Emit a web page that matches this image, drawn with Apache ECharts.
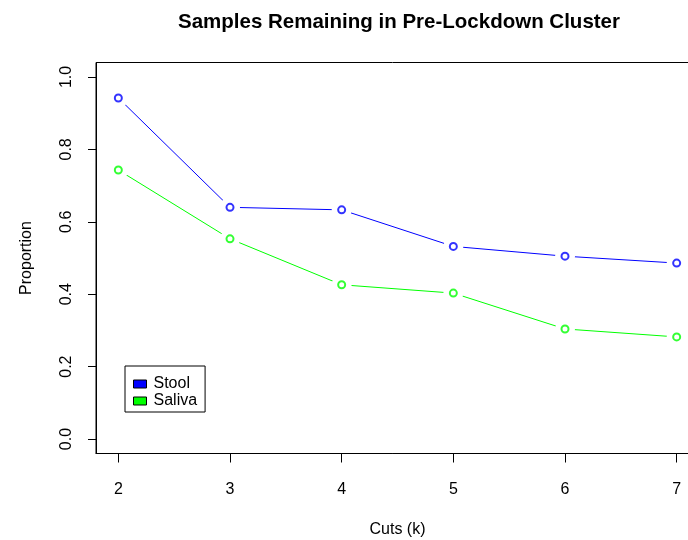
<!DOCTYPE html>
<html>
<head>
<meta charset="utf-8">
<script src="https://cdn.jsdelivr.net/npm/echarts@6/dist/echarts.min.js"></script>
<style>
  html, body { margin: 0; padding: 0; background: #fff; }
  #chart { width: 688px; height: 540px; }
</style>
</head>
<body>
<div id="chart"></div>
<script>
// data
const cuts = [2, 3, 4, 5, 6, 7];
const stool = [0.942, 0.640, 0.633, 0.532, 0.505, 0.486];
const saliva = [0.743, 0.553, 0.426, 0.403, 0.304, 0.282];
const yTicks = [0, 0.2, 0.4, 0.6, 0.8, 1.0];

const FONT = "Liberation Sans, Arial, Helvetica, sans-serif";

function pairs(ys) {
  return cuts.map((c, i) => [c, ys[i]]);
}

//R的type="b": 线 + 白色遮挡 + 空心圆
function rSeries(name, ys, color) {
  return [
    {
      name: name,
      type: "line",
      data: pairs(ys),
      showSymbol: false,
      lineStyle: { color: color, width: 1 },
      itemStyle: { color: color },
      z: 2,
      silent: true
    },
    {
      type: "scatter",
      data: pairs(ys),
      symbol: "circle",
      symbolSize: 20,
      itemStyle: { color: "#ffffff", opacity: 1 },
      z: 3,
      silent: true
    },
    {
      type: "scatter",
      data: pairs(ys),
      symbol: "emptyCircle",
      symbolSize: 7,
      itemStyle: { color: color, borderColor: color, borderWidth: 1 },
      z: 4,
      silent: true
    }
  ];
}

const chart = echarts.init(document.getElementById("chart"));
chart.setOption({
  animation: false,
  textStyle: { fontFamily: FONT },
  title: {
    text: "Samples Remaining in Pre-Lockdown Cluster",
    left: 394,
    textAlign: "center",
    top: 7,
    textStyle: { fontFamily: FONT, fontSize: 20.5, fontWeight: "bold", color: "#000" }
  },
  legend: {
    left: 125,
    top: 366,
    orient: "vertical",
    itemGap: 1,
    itemWidth: 13,
    itemHeight: 8,
    padding: [10, 8, 3, 8],
    backgroundColor: "#fff",
    borderColor: "#000",
    borderWidth: 1,
    borderRadius: 0,
    selectedMode: false,
    textStyle: { fontFamily: FONT, fontSize: 16, color: "#000", padding: [0, 0, 0, 2] },
    data: [
      { name: "Stool", icon: "rect", itemStyle: { color: "#0000ff", borderColor: "#000", borderWidth: 1 } },
      { name: "Saliva", icon: "rect", itemStyle: { color: "#00ff00", borderColor: "#000", borderWidth: 1 } }
    ]
  },
  grid: {
    left: 96,
    right: -11,
    top: 62.5,
    bottom: 86.5,
    outerBoundsMode: "none",
    containLabel: false,
    show: true,
    borderColor: "#000",
    borderWidth: 1,
    backgroundColor: "transparent"
  },
  xAxis: {
    type: "value",
    min: 1.8,
    max: 7.2,
    name: "Cuts (k)",
    nameLocation: "middle",
    nameGap: 68,
    nameTextStyle: { fontFamily: FONT, fontSize: 16, color: "#000" },
    axisLine: { show: true, onZero: false, lineStyle: { color: "#000", width: 1 } },
    axisTick: { show: true, length: 9, inside: false, customValues: cuts, lineStyle: { color: "#000" } },
    axisLabel: {
      customValues: cuts,
      margin: 28,
      fontFamily: FONT,
      fontSize: 16,
      color: "#000"
    },
    splitLine: { show: false }
  },
  yAxis: {
    type: "value",
    min: -0.04,
    max: 1.04,
    name: "Proportion",
    nameLocation: "middle",
    nameGap: 61,
    nameRotate: 90,
    nameTextStyle: { fontFamily: FONT, fontSize: 16, color: "#000" },
    axisLine: { show: true, onZero: false, lineStyle: { color: "#000", width: 1 } },
    axisTick: { show: true, length: 8, customValues: yTicks, lineStyle: { color: "#000" } },
    axisLabel: {
      customValues: yTicks,
      rotate: 90,
      margin: 21,
      fontFamily: FONT,
      fontSize: 16,
      color: "#000",
      formatter: v => v.toFixed(1)
    },
    splitLine: { show: false }
  },
  series: [
    ...rSeries("Stool", stool, "#0000ff"),
    ...rSeries("Saliva", saliva, "#00ff00")
  ]
});
</script>
</body>
</html>
